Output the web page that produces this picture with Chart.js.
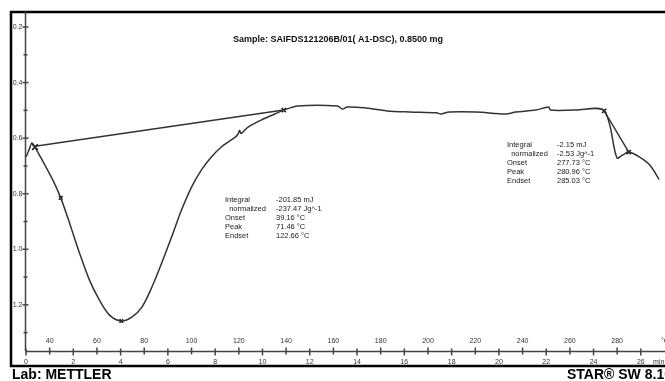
<!DOCTYPE html>
<html>
<head>
  <title>DSC curve</title>
  <script src="https://cdn.jsdelivr.net/npm/chart.js"></script>
  <style>
    body { margin: 0; background: #fff; }
    canvas { display: block; }
  </style>
</head>
<body>
  <canvas id="dscChart" width="665" height="381"></canvas>

  <script>
    // sample temperature (°C) and heat flow (mW, plotted downwards)
    const tempC = [30, 31.3, 32.5, 33.8, 41.3, 44.7, 48.4, 52.6, 56.8, 61.0, 65.2, 70.3, 74.9, 79.1,
      83.3, 87.4, 91.6, 95.8, 100.0, 104.2, 108.4, 112.6, 118.5, 119.7, 120.3, 121.0, 123.9, 129.4,
      135.2, 139.0, 144.9, 161.7, 163.8, 165.9, 173.0, 182.6, 192.3, 203.6, 205.3, 209.0, 220.4,
      232.9, 237.1, 245.5, 251.0, 251.8, 262.3, 274.5, 279.9, 282.4, 284.9, 289.5, 293.7, 297.9];
    const heatFlow = [0.668, 0.642, 0.617, 0.632, 0.750, 0.815, 0.905, 1.013, 1.110, 1.182, 1.236, 1.258, 1.243, 1.207,
      1.135, 1.049, 0.955, 0.858, 0.776, 0.714, 0.668, 0.632, 0.596, 0.585, 0.572, 0.583, 0.560, 0.535,
      0.513, 0.499, 0.484, 0.484, 0.495, 0.488, 0.491, 0.502, 0.506, 0.509, 0.513, 0.506, 0.506,
      0.513, 0.506, 0.499, 0.488, 0.499, 0.499, 0.502, 0.671, 0.660, 0.650, 0.668, 0.696, 0.750];

    // integration baselines (start / end)
    const base1Temp = [33.8, 139.0];
    const base1Flow = [0.629, 0.499];
    const base2Temp = [274.5, 284.9];
    const base2Flow = [0.502, 0.650];

    // evaluation markers
    const markTemp = [33.8, 44.7, 70.3, 139.0, 274.5, 284.9];
    const markFlow = [0.632, 0.815, 1.258, 0.499, 0.502, 0.650];

    // axes
    const yTicks = [0.2, 0.3, 0.4, 0.5, 0.6, 0.7, 0.8, 0.9, 1.0, 1.1, 1.2, 1.3];
    const yLabels = ['0.2', '', '0.4', '', '0.6', '', '0.8', '', '1.0', '', '1.2', ''];
    const tempTicks = [40, 60, 80, 100, 120, 140, 160, 180, 200, 220, 240, 260, 280];
    const timeTicks = [0, 2, 4, 6, 8, 10, 12, 14, 16, 18, 20, 22, 24, 26];
    const startTemp = 30;   // °C at 0 min
    const heatRate = 10;    // K/min

    const title = 'Sample: SAIFDS121206B/01( A1-DSC), 0.8500 mg';
    const eval1Names = ['Integral', '  normalized', 'Onset', 'Peak', 'Endset'];
    const eval1Values = ['-201.85 mJ', '-237.47 Jg^-1', '39.16 °C', '71.46 °C', '122.66 °C'];
    const eval2Names = ['Integral', '  normalized', 'Onset', 'Peak', 'Endset'];
    const eval2Values = ['-2.15 mJ', '-2.53 Jg^-1', '277.73 °C', '280.96 °C', '285.03 °C'];

    const pts = (xs, ys) => xs.map((x, i) => ({ x: x, y: ys[i] }));
    const FONT = '"Liberation Sans", Arial, sans-serif';

    // borders, axes and text of the METTLER printout
    const printout = {
      id: 'printout',
      afterDraw(chart) {
        const ctx = chart.ctx;
        const xs = chart.scales.x, ys = chart.scales.y;
        const ca = chart.chartArea;
        ctx.save();

        // frame
        ctx.strokeStyle = '#000';
        ctx.lineWidth = 2.5;
        ctx.beginPath();
        ctx.moveTo(665, 12); ctx.lineTo(11, 12); ctx.lineTo(11, 366); ctx.lineTo(665, 366);
        ctx.stroke();

        // y axis
        const ax = ca.left - 0.5;
        ctx.strokeStyle = '#444';
        ctx.lineWidth = 1.5;
        ctx.beginPath();
        ctx.moveTo(ax, ca.top); ctx.lineTo(ax, ca.bottom);
        ctx.stroke();
        ctx.fillStyle = '#333';
        ctx.font = '7px ' + FONT;
        ctx.textAlign = 'right';
        ctx.textBaseline = 'middle';
        yTicks.forEach((v, i) => {
          const py = ys.getPixelForValue(v);
          const major = yLabels[i] !== '';
          ctx.beginPath();
          ctx.moveTo(ax - (major ? 3 : 2), py); ctx.lineTo(ax + (major ? 3 : 2), py);
          ctx.stroke();
          if (major) ctx.fillText(yLabels[i], ax - 3, py);
        });

        // x axis
        const ay = ca.bottom + 0.5;
        ctx.beginPath();
        ctx.moveTo(ax, ay); ctx.lineTo(665, ay);
        ctx.stroke();
        ctx.textAlign = 'center';
        tempTicks.forEach(t => {
          const px = xs.getPixelForValue(t);
          ctx.beginPath();
          ctx.moveTo(px, ay - 4); ctx.lineTo(px, ay + 3);
          ctx.stroke();
          ctx.fillText(String(t), px, ay - 10);
        });
        timeTicks.forEach(m => {
          const px = xs.getPixelForValue(startTemp + heatRate * m);
          ctx.beginPath();
          ctx.moveTo(px, ay - 3); ctx.lineTo(px, ay + 4);
          ctx.stroke();
          ctx.fillText(String(m), px, ay + 11);
        });
        ctx.textAlign = 'left';
        ctx.fillText('°C', 661, ay - 10);
        ctx.fillText('min', 653, ay + 11);

        // title
        ctx.fillStyle = '#111';
        ctx.font = 'bold 9px ' + FONT;
        ctx.fillText(title, 233, 40);

        // evaluation tables
        ctx.font = '7.5px ' + FONT;
        ctx.fillStyle = '#222';
        const table = (names, values, x0, x1, y0) => {
          names.forEach((n, i) => {
            ctx.fillText(n, x0, y0 + i * 9);
            ctx.fillText(values[i], x1, y0 + i * 9);
          });
        };
        table(eval1Names, eval1Values, 225, 276, 200);
        table(eval2Names, eval2Values, 507, 557, 145);

        // footer
        ctx.fillStyle = '#000';
        ctx.font = 'bold 14px ' + FONT;
        ctx.textBaseline = 'alphabetic';
        ctx.fillText('Lab: METTLER', 12, 379);
        ctx.fillText('STAR\u00AE SW 8.10', 567, 379);
        ctx.restore();
      }
    };

    const ctx = document.getElementById('dscChart').getContext('2d');
    new Chart(ctx, {
      type: 'line',
      data: {
        datasets: [{
          data: pts(tempC, heatFlow),
          borderColor: '#333',
          borderWidth: 1.5,
          pointRadius: 0,
          tension: 0.3
        }, {
          data: pts(base1Temp, base1Flow),
          borderColor: '#333',
          borderWidth: 1.5,
          pointRadius: 0
        }, {
          data: pts(base2Temp, base2Flow),
          borderColor: '#333',
          borderWidth: 1.4,
          pointRadius: 0
        }, {
          data: pts(markTemp, markFlow),
          showLine: false,
          pointStyle: 'crossRot',
          pointRadius: [4, 2.5, 2.5, 3, 3, 3],
          borderColor: '#111',
          borderWidth: 1.5
        }]
      },
      options: {
        responsive: false,
        animation: false,
        layout: { padding: { left: 26, top: 12, right: 0, bottom: 30 } },
        plugins: { legend: { display: false }, tooltip: { enabled: false } },
        scales: {
          x: { type: 'linear', min: 30, max: 297.9, display: false },
          y: { reverse: true, min: 0.146, max: 1.366, display: false }
        }
      },
      plugins: [printout]
    });
  </script>
</body>
</html>
